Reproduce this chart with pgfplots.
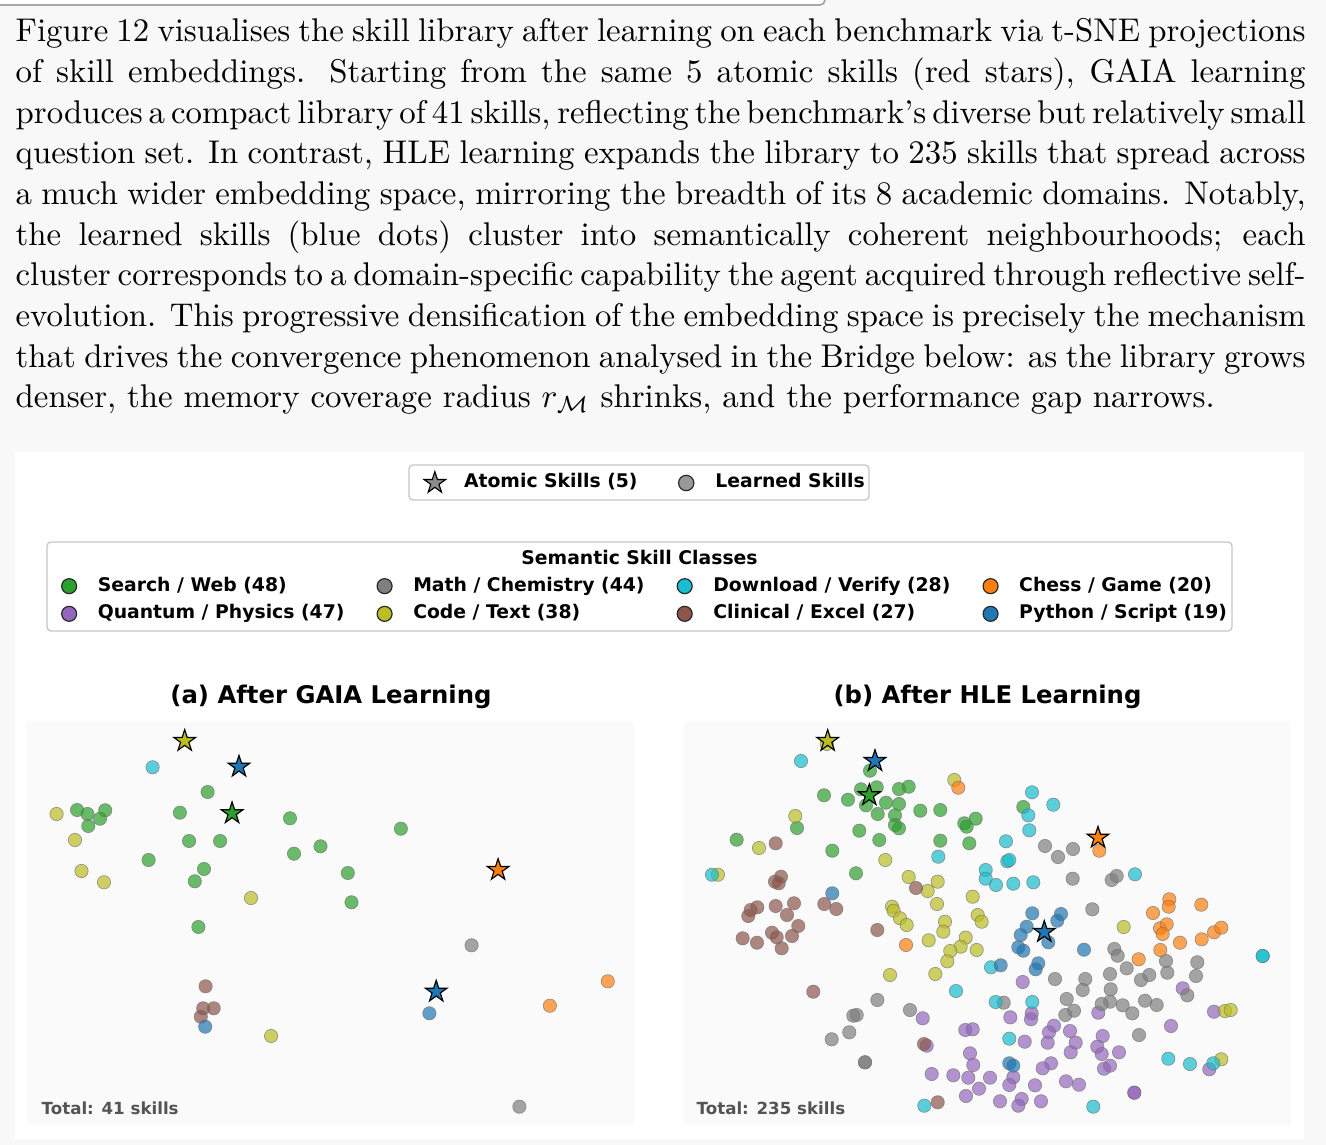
\documentclass[border=0pt]{standalone}
\usepackage{fontspec}
\usepackage{pgfplots}
\pgfplotsset{compat=1.18}
\newfontfamily\djv{DejaVu Sans}
\definecolor{tabblue}{HTML}{1F77B4}
\definecolor{taborange}{HTML}{FF7F0E}
\definecolor{tabgreen}{HTML}{2CA02C}
\definecolor{tabpurple}{HTML}{9467BD}
\definecolor{tabbrown}{HTML}{8C564B}
\definecolor{tabgray}{HTML}{7F7F7F}
\definecolor{tabolive}{HTML}{BCBD22}
\definecolor{tabcyan}{HTML}{17BECF}
\definecolor{pagebg}{HTML}{F8F8F8}
\definecolor{panelbg}{HTML}{FAFAFA}
\pgfdeclareplotmark{fstar}{%
 \pgfpathmoveto{\pgfpointpolar{90}{\pgfplotmarksize}}%
 \pgfpathlineto{\pgfpointpolar{126}{0.382\pgfplotmarksize}}%
 \pgfpathlineto{\pgfpointpolar{162}{\pgfplotmarksize}}%
 \pgfpathlineto{\pgfpointpolar{198}{0.382\pgfplotmarksize}}%
 \pgfpathlineto{\pgfpointpolar{234}{\pgfplotmarksize}}%
 \pgfpathlineto{\pgfpointpolar{270}{0.382\pgfplotmarksize}}%
 \pgfpathlineto{\pgfpointpolar{306}{\pgfplotmarksize}}%
 \pgfpathlineto{\pgfpointpolar{342}{0.382\pgfplotmarksize}}%
 \pgfpathlineto{\pgfpointpolar{18}{\pgfplotmarksize}}%
 \pgfpathlineto{\pgfpointpolar{54}{0.382\pgfplotmarksize}}%
 \pgfpathclose
 \pgfusepathqfillstroke}
\pgfplotsset{
 pt/.style={only marks, color=#1, mark=*, mark size=2.0pt, mark options={fill=#1, draw=black!55, line width=0.2pt, opacity=0.7}},
 st/.style={only marks, color=#1, mark=fstar, mark size=3.4pt, mark options={fill=#1, draw=black, line width=0.35pt}},
 lgd/.style={only marks, color=#1, mark=*, mark size=2.25pt, mark options={fill=#1, draw=black!85, line width=0.35pt}},
 panel/.style={width=182.1pt, height=120.9pt, scale only axis, hide axis, clip=false, y dir=reverse, ymin=722, ymax=1125, anchor=north west},
}
\newcommand{\lfont}{\djv\bfseries\fontsize{5.64pt}{6.8pt}\selectfont}
\begin{document}
\begin{tikzpicture}
\begin{scope}[x=0.3pt, y=-0.3pt]
\useasboundingbox (0,0) rectangle (1326,1145);
\fill[pagebg] (0,0) rectangle (1326,1145);
\draw[black!35, fill=white, rounded corners=1.5pt, line width=0.5pt] (-30,-40) rectangle (825,5);
% paragraph
\node[anchor=base west, inner sep=0pt] at (15,42) {\parbox[t]{387pt}{\fontsize{9.85pt}{12.2pt}\selectfont
\spaceskip=0.3333em plus 0.2em minus 0.16em
\hbox to 387pt{Figure 12 visualises the skill library after learning on each benchmark via t-SNE projections}
\hbox to 387pt{of skill embeddings. Starting from the same 5 atomic skills (red stars), GAIA learning}
\hbox to 387pt{produces a compact library of 41 skills, reflecting the benchmark’s diverse but relatively small}
\hbox to 387pt{question set. In contrast, HLE learning expands the library to 235 skills that spread across}
\hbox to 387pt{a much wider embedding space, mirroring the breadth of its 8 academic domains. Notably,}
\hbox to 387pt{the learned skills (blue dots) cluster into semantically coherent neighbourhoods; each}
\hbox to 387pt{cluster corresponds to a domain-specific capability the agent acquired through reflective self-}
\hbox to 387pt{evolution. This progressive densification of the embedding space is precisely the mechanism}
\hbox to 387pt{that drives the convergence phenomenon analysed in the Bridge below: as the library grows}
\hbox{denser, the memory coverage radius $r_{\mathcal{M}}$ shrinks, and the performance gap narrows.}}};
% figure area
\fill[white] (15,452) rectangle (1304,1139);
\draw[black!22, fill=white, rounded corners=1.2pt, line width=0.4pt] (409,465) rectangle (869,500);
\draw[black!22, fill=white, rounded corners=1.2pt, line width=0.4pt] (47,542) rectangle (1232,631);
\node[font=\lfont, anchor=base] at (639.5,564) {Semantic Skill Classes};
\fill[panelbg] (27,722) rectangle (634,1125);
\fill[panelbg] (684,722) rectangle (1291,1125);
\node[font=\djv\bfseries\fontsize{7.3pt}{8.8pt}\selectfont, anchor=base] at (331,703) {(a) After GAIA Learning};
\node[font=\djv\bfseries\fontsize{7.3pt}{8.8pt}\selectfont, anchor=base] at (987.5,703) {(b) After HLE Learning};
\end{scope}
% legend 1
\begin{axis}[hide axis, at={(193.2pt,-144.6pt)}, anchor=center, width=10pt, height=10pt, scale only axis, xmin=0, xmax=1, ymin=0, ymax=1,
 legend columns=2, legend cell align=left,
 legend image code/.code={\path (-3.3pt,0pt) (3.3pt,0pt); \draw[#1] plot coordinates {(0pt,0pt)};},
 legend style={at={(0.5,0.5)}, anchor=center, draw=none, fill=none, font=\lfont, inner sep=0pt,
   /tikz/every odd column/.append style={column sep=5.25pt},
   /tikz/every even column/.append style={column sep=11.1pt},
   nodes={inner sep=0pt, text height=4.3pt, text depth=1.3pt}}]
\addplot[draw=none, forget plot] coordinates {(0.5,0.5)};
\addlegendimage{only marks, mark=fstar, mark size=3.4pt, mark options={fill=black!45, draw=black, line width=0.35pt}}
\addlegendentry{Atomic Skills (5)}
\addlegendimage{only marks, mark=*, mark size=2.3pt, mark options={fill=black!40, draw=black!85, line width=0.35pt}}
\addlegendentry{Learned Skills}
\end{axis}
% legend 2
\begin{axis}[hide axis, at={(193.2pt,-180pt)}, anchor=center, width=10pt, height=10pt, scale only axis, xmin=0, xmax=1, ymin=0, ymax=1,
 legend columns=4, legend cell align=left,
 legend image code/.code={\path (-2.25pt,0pt) (2.25pt,0pt); \draw[#1] plot coordinates {(0pt,0pt)};},
 legend style={at={(0.5,0.5)}, anchor=center, draw=none, fill=none, font=\lfont, inner sep=0pt, row sep=2.7pt,
   /tikz/every odd column/.append style={column sep=6.15pt},
   /tikz/every even column/.append style={column sep=9.6pt},
   nodes={inner sep=0pt, text height=4.3pt, text depth=1.3pt}}]
\addplot[draw=none, forget plot] coordinates {(0.5,0.5)};
\addlegendimage{lgd=tabgreen}\addlegendentry{Search / Web (48)}
\addlegendimage{lgd=tabgray}\addlegendentry{Math / Chemistry (44)}
\addlegendimage{lgd=tabcyan}\addlegendentry{Download / Verify (28)}
\addlegendimage{lgd=taborange}\addlegendentry{Chess / Game (20)}
\addlegendimage{lgd=tabpurple}\addlegendentry{Quantum / Physics (47)}
\addlegendimage{lgd=tabolive}\addlegendentry{Code / Text (38)}
\addlegendimage{lgd=tabbrown}\addlegendentry{Clinical / Excel (27)}
\addlegendimage{lgd=tabblue}\addlegendentry{Python / Script (19)}
\end{axis}
% panel a
\begin{axis}[panel, at={(8.1pt,-216.6pt)}, xmin=27, xmax=634]
\addplot[pt=tabgreen] coordinates {(207.6,792)(77.1,810)(87.5,814)(105.2,810.3)(100,818.7)(88.3,826)(179.9,812.7)(290,818.3)(400.9,828.7)(189.1,841)(220.1,841)(320.5,846.3)(294,853.7)(148.6,860)(204,869)(194.8,881.3)(347.8,873)(351.5,902.3)(198.4,927)};
\addplot[pt=tabgray] coordinates {(471.6,945.3)(519.4,1106.7)};
\addplot[pt=tabolive] coordinates {(56.6,814)(75,840)(81.5,871)(104,882.3)(251,898)(271.1,1036)};
\addplot[pt=tabcyan] coordinates {(152.6,767.3)};
\addplot[pt=tabbrown] coordinates {(205.6,986.3)(203.2,1008.3)(213.7,1008.3)(200.8,1016.7)};
\addplot[pt=taborange] coordinates {(607.8,981.3)(549.9,1005.7)};
\addplot[pt=tabblue] coordinates {(205.2,1026.7)(429.4,1013.3)};
\addplot[st=tabolive] coordinates {(184.7,741)};
\addplot[st=tabblue] coordinates {(239,766.7)(436.2,991.7)};
\addplot[st=tabgreen] coordinates {(232.1,813.3)};
\addplot[st=taborange] coordinates {(498.1,870)};
\end{axis}
% panel b
\begin{axis}[panel, at={(205.2pt,-216.6pt)}, xmin=684, xmax=1291]
\addplot[pt=tabgreen] coordinates {(870,770.7)(824,795.3)(848,799.7)(861,789.3)(876.7,787.3)(866,805.3)(886,802.7)(899,789)(908.7,786.7)(899,804)(877.7,814)(895,815.3)(895,825)(899,828.3)(920.3,810.7)(940.3,810)(964.3,823.3)(975.7,818.7)(966.7,826.7)(940.3,840.7)(969.3,843.3)(797,828)(859.3,830.7)(879.3,840)(736.7,839.7)(832.3,850.7)(856,873.3)(1023.3,807)};
\addplot[pt=tabpurple] coordinates {(922.7,1018.3)(926.7,1045.7)(965.3,1030)(972.7,1029.3)(970,1053.3)(973.3,1065)(931.7,1074)(953.3,1075.3)(968.3,1077.7)(979,1088.7)(966,1096)(1022.7,982)(1010.3,1017.3)(1031.7,1013.3)(1031,1019.3)(1054,1025.7)(1049,1032.3)(1047.7,1042.7)(1070,1031)(1075.7,1042.7)(1070.7,1052.3)(1024.7,1041.7)(1102.7,1036)(1097.3,1046.7)(1101.7,1054)(1119,1052.3)(1110,1065.7)(1104,1068.7)(1098.3,1012.7)(1051,1063.3)(1042.7,1068.3)(990,1077.7)(1013.3,1077.3)(1009.3,1085)(1035,1085.3)(1066,1081.3)(1079,1084.7)(1000,1101.3)(1021.7,1099)(1018.3,1105.7)(1041,1101.3)(1171,1026)(1182.7,988.3)(1214,1011.7)(1209.3,1069.3)(1134.3,1092.7)(1134.3,1092.7)};
\addplot[pt=tabgray] coordinates {(1045,846)(1058,857)(1073,849)(1072.7,878.7)(1111.7,880)(1116.7,876)(1092.3,909.3)(877.3,1000)(853.3,1015.7)(856.7,1015)(849.3,1032.3)(831.7,1039.3)(865,1062.3)(865,1062.3)(910,1010)(1003.7,1002.7)(1055,979)(1066.7,999)(1074,1010.7)(1065.3,1015)(1085.3,979)(1082.7,990)(1110,974)(1110.7,989.3)(1110,1001.7)(1101.7,1004)(1114.3,949)(1117.7,955.7)(1126.7,968.3)(1141,980)(1149.3,975)(1145,1000.7)(1156.7,1005)(1122.7,1005.3)(1132.3,1013.3)(1166,961)(1167.3,972.7)(1197.3,962.3)(1196,976)(1187.3,995.3)(1139,1035)};
\addplot[pt=tabolive] coordinates {(826.7,744)(954.3,780)(795.3,816)(759,848)(885.3,860)(718,874.7)(908.7,877)(927.7,891)(937.7,881.7)(972.7,896.7)(892,906.7)(893.7,910.7)(900,918.3)(906.7,925)(937,904)(945,921.7)(943.3,931.7)(928.7,940.3)(965.7,937.7)(960.7,946.7)(950.3,951)(947.3,961.3)(976.7,950)(935.3,974)(890,975)(977.7,915)(981.7,921.7)(1123.7,927)(1225,1011)(1230.7,1010)(1221.3,1059.3)};
\addplot[pt=tabcyan] coordinates {(801,761)(938.3,856.7)(712,874.7)(985.7,870)(985.7,878.7)(1032,792.3)(1053.3,804.7)(1028.3,815.3)(1029.3,830.3)(1006,841.3)(1007.3,861.3)(1009.3,860)(1135,874.3)(996,885)(1013.3,883.7)(1033.3,882.3)(956,991)(924.3,1105.7)(991,967.3)(995.7,1002)(1032.3,1002)(1009.3,1038.7)(1168.3,1058.7)(1190,1064)(1213.3,1063.3)(1093.3,1106.7)(1262.7,956)(1262.7,956)};
\addplot[pt=tabbrown] coordinates {(775.7,843.3)(775,881.7)(781,876.7)(778.7,883.3)(916,888)(757.3,907.3)(750.7,910)(748.3,916)(775.7,906)(794,903.3)(787,915)(798.3,926)(772,932.7)(776.7,937.3)(792,936)(781.7,948.3)(742.7,938.3)(757,942.7)(824.3,904)(836.3,909)(877.3,930)(813.3,991.7)(924,1044)(937.7,1102.3)};
\addplot[pt=taborange] coordinates {(958.3,787.7)(1099.3,850.7)(1169.3,899.3)(1168.7,906.7)(1201.3,904.7)(906,945)(1153,913)(1160,928.3)(1166.7,924.3)(1162.7,934)(1180,942.7)(1160.3,950)(1138.7,959.3)(1201.7,939.3)(1214,932.3)(1221.3,927.7)};
\addplot[pt=tabblue] coordinates {(832.3,893.3)(1032.3,913.3)(1061,914)(1057.3,920.7)(1026.7,926.7)(1020.7,935)(1048.3,942.3)(1018.3,947.3)(1023.3,950.7)(1038.3,963.3)(1035.7,969.3)(1084,949.7)(1000.7,965.3)(1009.3,1063.3)(1013.3,1065.7)};
\addplot[st=tabolive] coordinates {(827.7,741)};
\addplot[st=tabblue] coordinates {(875,761)(1044.3,932)};
\addplot[st=tabgreen] coordinates {(869.3,795.3)};
\addplot[st=taborange] coordinates {(1098,837.7)};
\end{axis}
\begin{scope}[x=0.3pt, y=-0.3pt]
\node[font=\djv\bfseries\fontsize{5pt}{6pt}\selectfont, text=black!67, anchor=base west, inner sep=0pt] at (41,1114) {Total: 41 skills};
\node[font=\djv\bfseries\fontsize{5pt}{6pt}\selectfont, text=black!67, anchor=base west, inner sep=0pt] at (696,1114) {Total: 235 skills};
\end{scope}
\end{tikzpicture}
\end{document}
